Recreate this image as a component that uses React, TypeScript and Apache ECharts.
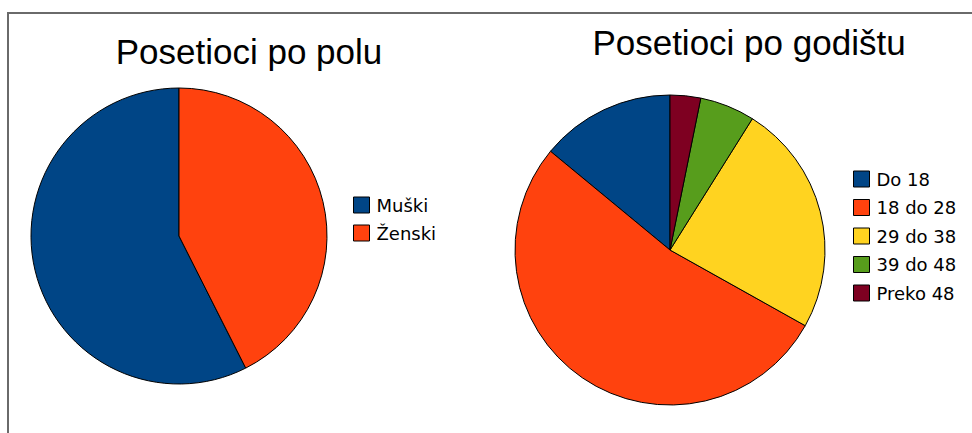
import React, { useEffect, useRef } from "react";
import * as echarts from "echarts";

const genderNames = ["Muški", "Ženski"];
const genderValues = [27, 20];
const ageNames = ["Do 18", "18 do 28", "29 do 38", "39 do 48", "Preko 48"];
const ageValues = [22, 83, 38, 9, 5];
const palette = ["#004586", "#ff420e", "#ffd320", "#579d1c", "#7e0021"];
const titles = ["Posetioci po polu", "Posetioci po godištu"];

const FONT = "'Liberation Sans', Arial, sans-serif";
const LEGEND_FONT = "'DejaVu Sans', sans-serif";

export default function App() {
  const ref = useRef<HTMLDivElement>(null);
  useEffect(() => {
    if (!ref.current) return;
    const chart = echarts.init(ref.current, undefined, { renderer: "svg" });
    const legendBase = {
      orient: "vertical",
      icon: "rect",
      itemWidth: 16,
      itemHeight: 16,
      itemStyle: { borderColor: "#000", borderWidth: 1 },
      textStyle: { fontFamily: LEGEND_FONT, fontSize: 18, color: "#000", lineHeight: 17, padding: [0, 0, 0, 2] },
      selectedMode: false,
    };
    const pieBase = {
      type: "pie",
      clockwise: false,
      startAngle: 90,
      label: { show: false },
      labelLine: { show: false },
      emphasis: { disabled: true },
      silent: true,
    };
    const mkData = (names: string[], values: number[]) =>
      names.map((n, i) => ({
        name: n,
        value: values[i],
        itemStyle: { color: palette[i], borderColor: "#000", borderWidth: 1 },
      }));
    chart.setOption({
      animation: false,
      backgroundColor: "#fff",
      title: [
        {
          text: titles[0],
          left: 244,
          textAlign: "center",
          top: 29,
          textStyle: { fontFamily: FONT, fontSize: 35, fontWeight: "normal", color: "#000" },
        },
        {
          text: titles[1],
          left: 744,
          textAlign: "center",
          top: 20,
          textStyle: { fontFamily: FONT, fontSize: 35, fontWeight: "normal", color: "#000" },
        },
      ],
      legend: [
        { ...legendBase, data: genderNames, left: 348, top: 191, itemGap: 10 },
        { ...legendBase, data: ageNames, left: 848, top: 165, itemGap: 10.5 },
      ],
      graphic: [
        {
          type: "rect",
          shape: { x: 8, y: 13, width: 1200, height: 800 },
          style: { fill: "none", stroke: "#6a6a6a", lineWidth: 2 },
          silent: true,
          z: 100,
        },
      ],
      series: [
        {
          ...pieBase,
          center: [179, 236],
          radius: 148,
          data: mkData(genderNames, genderValues),
        },
        {
          ...pieBase,
          center: [670, 250],
          radius: 155,
          data: mkData(ageNames, ageValues),
        },
      ],
    });
    return () => chart.dispose();
  }, []);
  return (
    <div
      ref={ref}
      style={{ position: "fixed", left: 0, top: 0, width: 972, height: 433, background: "#fff" }}
    />
  );
}
